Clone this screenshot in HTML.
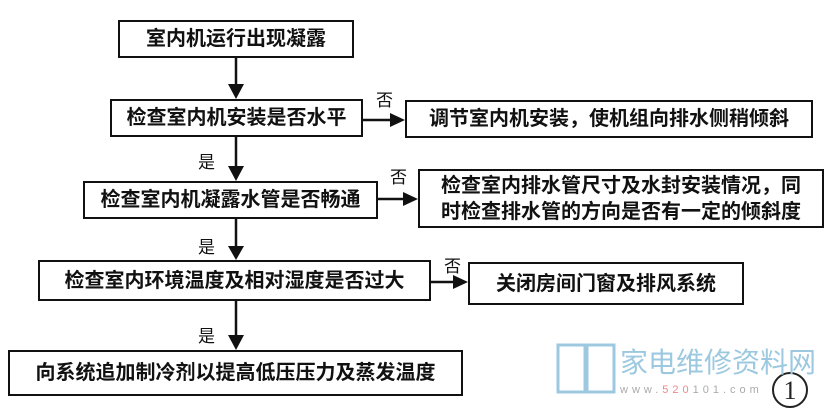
<!DOCTYPE html>
<html><head><meta charset="utf-8"><style>
html,body{margin:0;padding:0;background:#fff;}
body{width:832px;height:418px;position:relative;overflow:hidden;font-family:"Liberation Sans","Noto Sans CJK SC",sans-serif;color:#111;}
.b{position:absolute;border:2px solid #111;box-sizing:border-box;font-size:20px;font-weight:bold;display:flex;align-items:center;justify-content:center;text-align:center;line-height:26px;white-space:nowrap;}
.l{position:absolute;font-size:17px;white-space:nowrap;}
svg{position:absolute;left:0;top:0;}
</style></head><body>
<svg width="832" height="418">
<g stroke="#111" stroke-width="2.5" fill="#111">
<line x1="236" y1="57" x2="236" y2="85"/><polygon points="228,84 244,84 236,99" stroke="none"/>
<line x1="236" y1="136" x2="236" y2="167"/><polygon points="228,166 244,166 236,181" stroke="none"/>
<line x1="236" y1="218" x2="236" y2="247"/><polygon points="228,246 244,246 236,260" stroke="none"/>
<line x1="236" y1="300" x2="236" y2="336"/><polygon points="228,335 244,335 236,350" stroke="none"/>
<line x1="362" y1="120" x2="392" y2="120"/><polygon points="390,113 390,127 405,120" stroke="none"/>
<line x1="377" y1="199" x2="405" y2="199"/><polygon points="403,192 403,206 418,199" stroke="none"/>
<line x1="430" y1="282" x2="455" y2="282"/><polygon points="453,275 453,289 468,282" stroke="none"/>
</g>
<g fill="none" stroke="#9cc9e0" stroke-width="3">
<path d="M558 345 L585 345 L585 392 L558 392 Z"/><path d="M587 345 L614 345 L614 392 L587 392 Z"/>
</g>
<circle cx="790" cy="390" r="17" fill="none" stroke="#222" stroke-width="2"/>
<text x="790" y="399" font-size="26" text-anchor="middle" font-family="Liberation Serif,serif" fill="#222">1</text>
</svg>
<div class="b" style="left:118px;top:20px;width:236px;height:38px;">室内机运行出现凝露</div>
<div class="b" style="left:110px;top:99px;width:253px;height:38px;">检查室内机安装是否水平</div>
<div class="b" style="left:405px;top:100px;width:408px;height:38px;">调节室内机安装，使机组向排水侧稍倾斜</div>
<div class="b" style="left:83px;top:181px;width:295px;height:38px;">检查室内机凝露水管是否畅通</div>
<div class="b" style="left:418px;top:169px;width:406px;height:59px;">检查室内排水管尺寸及水封安装情况，同<br>时检查排水管的方向是否有一定的倾斜度</div>
<div class="b" style="left:38px;top:260px;width:393px;height:41px;">检查室内环境温度及相对湿度是否过大</div>
<div class="b" style="left:468px;top:262px;width:276px;height:43px;">关闭房间门窗及排风系统</div>
<div class="b" style="left:8px;top:350px;width:455px;height:46px;">向系统追加制冷剂以提高低压压力及蒸发温度</div>
<div class="l" style="left:376px;top:86px;">否</div>
<div class="l" style="left:390px;top:163px;">否</div>
<div class="l" style="left:444px;top:252px;">否</div>
<div class="l" style="left:198px;top:148px;">是</div>
<div class="l" style="left:198px;top:233px;">是</div>
<div class="l" style="left:198px;top:322px;">是</div>
<div class="l" style="left:620px;top:341px;font-size:28px;color:#9cc9e0;">家电维修资料网</div>
<div class="l" style="left:620px;top:384px;font-size:11px;color:#aaa;letter-spacing:4px;">www.<span style="color:#e88">520</span>101.com</div>
</body></html>
